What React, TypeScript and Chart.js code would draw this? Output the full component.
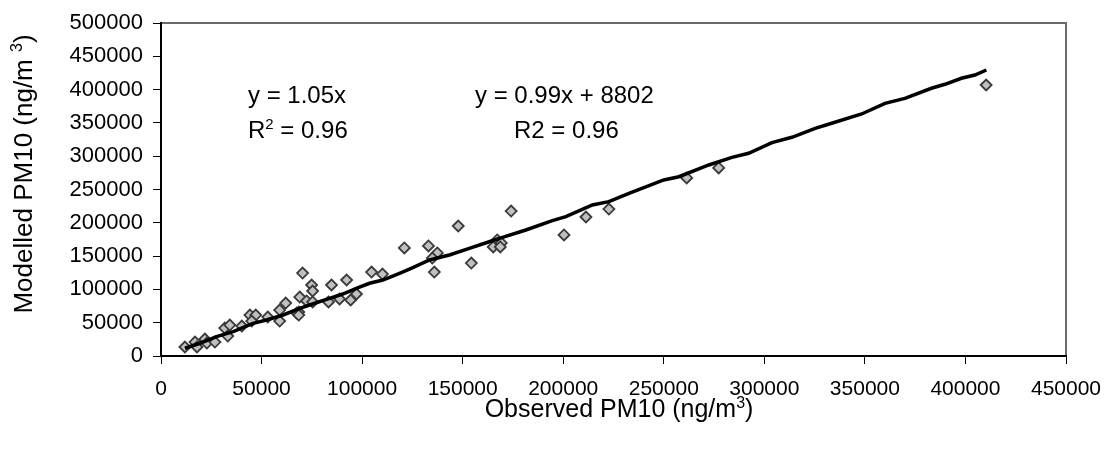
import React, { useEffect, useRef } from "react";
import { Chart, registerables } from "chart.js";

Chart.register(...registerables);

const observedPM10 = [11900, 16900, 17900, 21800, 22800, 26800, 31700, 34200, 33200, 40200, 44200, 47100, 45100, 53100, 59000, 59000, 62000, 67500, 68500, 69000, 70400, 74900, 75400, 72400, 75400, 68500, 83300, 84800, 88800, 92300, 94300, 97200, 104700, 110100, 121000, 133000, 137400, 134900, 135900, 147800, 154300, 165200, 167200, 169200, 168700, 174100, 200400, 211300, 222700, 261400, 277300, 410300];
const modelledPM10 = [13500, 21000, 13500, 25500, 19500, 21000, 42000, 46500, 30000, 45000, 61500, 61500, 52500, 58500, 69000, 52500, 79500, 64500, 66000, 88500, 124600, 106600, 97600, 82600, 81100, 61500, 81100, 106600, 85600, 114100, 84100, 93100, 126100, 123100, 162200, 165200, 154700, 147100, 126100, 195200, 139600, 163700, 174200, 169700, 163700, 217700, 181700, 208700, 220700, 267300, 282300, 406900];

const lineX = [11900, 19350, 27600, 35900, 45800, 52400, 60700, 69000, 77200, 83800, 90400, 97100, 103700, 110300, 118600, 124400, 133500, 143400, 153300, 163200, 169800, 181400, 194600, 201300, 214500, 222700, 232700, 250000, 257500, 272400, 283900, 292200, 303800, 313700, 325300, 333500, 348400, 360000, 369900, 383100, 389800, 398000, 404700, 410400];
const lineY = [11600, 19100, 29000, 36500, 49100, 54100, 61600, 71600, 80000, 86600, 93100, 101700, 109200, 114100, 124200, 131700, 144100, 151700, 161700, 171600, 178200, 189200, 203200, 209200, 226700, 231700, 244300, 264300, 269200, 286800, 298300, 304400, 320300, 328400, 341900, 349400, 363400, 379400, 386900, 402000, 408000, 417000, 421900, 429400];

const xMax = 450000;
const yMax = 500000;
const stepSize = 50000;

const FONT = '"Liberation Sans", Arial, sans-serif';

function drawWithSup(ctx: CanvasRenderingContext2D, parts: [string, boolean][], x: number, y: number, size: number) {
  let cx = x;
  for (const [t, sup] of parts) {
    ctx.font = `${sup ? Math.round(size * 0.62) : size}px ${FONT}`;
    ctx.fillText(t, cx, sup ? y - size * 0.38 : y);
    cx += ctx.measureText(t).width;
  }
}
function widthWithSup(ctx: CanvasRenderingContext2D, parts: [string, boolean][], size: number) {
  let w = 0;
  for (const [t, sup] of parts) {
    ctx.font = `${sup ? Math.round(size * 0.62) : size}px ${FONT}`;
    w += ctx.measureText(t).width;
  }
  return w;
}

const decorPlugin = {
  id: "decor",
  beforeDraw(chart: any) {
    const { ctx, chartArea } = chart;
    ctx.save();
    ctx.strokeStyle = "#6a6a6a";
    ctx.lineWidth = 2;
    ctx.strokeRect(chartArea.left, chartArea.top, chartArea.right - chartArea.left, chartArea.bottom - chartArea.top);
    ctx.restore();
  },
  afterDraw(chart: any) {
    const { ctx } = chart;
    ctx.save();
    ctx.fillStyle = "#000";
    ctx.textBaseline = "alphabetic";
    ctx.textAlign = "left";
    const s = 24;
    drawWithSup(ctx, [["y = 1.05x", false]], 240, 95, s);
    drawWithSup(ctx, [["R", false], ["2", true], [" = 0.96", false]], 240, 130, s);
    drawWithSup(ctx, [["y = 0.99x + 8802", false]], 467, 95, s);
    drawWithSup(ctx, [["R2 = 0.96", false]], 506, 130, s);

    // x title
    const xt: [string, boolean][] = [["Observed PM10 (ng/m", false], ["3", true], [")", false]];
    const xs = 25;
    const xw = widthWithSup(ctx, xt, xs);
    drawWithSup(ctx, xt, 611 - xw / 2, 409, xs);

    // y title
    const yt: [string, boolean][] = [["Modelled PM10 (ng/m ", false], ["3", true], [")", false]];
    const ys = 26;
    const yw = widthWithSup(ctx, yt, ys);
    ctx.translate(24, 166);
    ctx.rotate(-Math.PI / 2);
    drawWithSup(ctx, yt, -yw / 2, 0, ys);
    ctx.restore();
  },
};

export default function App() {
  const ref = useRef<HTMLCanvasElement>(null);
  useEffect(() => {
    if (!ref.current) return;
    const chart = new Chart(ref.current, {
      type: "scatter",
      data: {
        datasets: [
          {
            label: "fit",
            data: lineX.map((x, i) => ({ x, y: lineY[i] })),
            showLine: true,
            borderColor: "#000",
            borderWidth: 3.5,
            pointRadius: 0,
            order: 0,
          },
          {
            label: "PM10",
            data: observedPM10.map((x, i) => ({ x, y: modelledPM10[i] })),
            pointStyle: "rectRot",
            pointRadius: 5.5,
            backgroundColor: "#c0c0c0",
            borderColor: "#3a3a3a",
            borderWidth: 1.8,
            order: 1,
          },
        ],
      },
      options: {
        animation: false,
        responsive: false,
        maintainAspectRatio: false,
        layout: { padding: { top: 15, right: 38, bottom: 0, left: 0 } },
        plugins: { legend: { display: false }, tooltip: { enabled: false } },
        scales: {
          x: {
            type: "linear",
            min: 0,
            max: xMax,
            ticks: { stepSize, color: "#000", font: { family: FONT, size: 21 }, padding: 13, maxRotation: 0, autoSkip: false, callback: (v: any) => String(v) },
            grid: { drawOnChartArea: false, tickLength: 8, color: "#000", lineWidth: 1 },
            border: { display: true, color: "#000", width: 2 },
            afterFit: (scale: any) => { scale.height = 87; scale.paddingLeft = 0; scale.paddingRight = 0; },
          },
          y: {
            type: "linear",
            min: 0,
            max: yMax,
            ticks: { stepSize, color: "#000", font: { family: FONT, size: 22 }, padding: 10, callback: (v: any) => String(v) },
            grid: { drawOnChartArea: false, tickLength: 8, color: "#000", lineWidth: 1 },
            border: { display: true, color: "#000", width: 2 },
            afterFit: (scale: any) => { scale.width = 153; scale.paddingTop = 0; scale.paddingBottom = 0; },
          },
        },
      },
      plugins: [decorPlugin],
    });
    return () => chart.destroy();
  }, []);
  return (
    <div style={{ width: 1096, height: 435 }}>
      <canvas ref={ref} width={1096} height={435} style={{ width: 1096, height: 435 }} />
    </div>
  );
}
